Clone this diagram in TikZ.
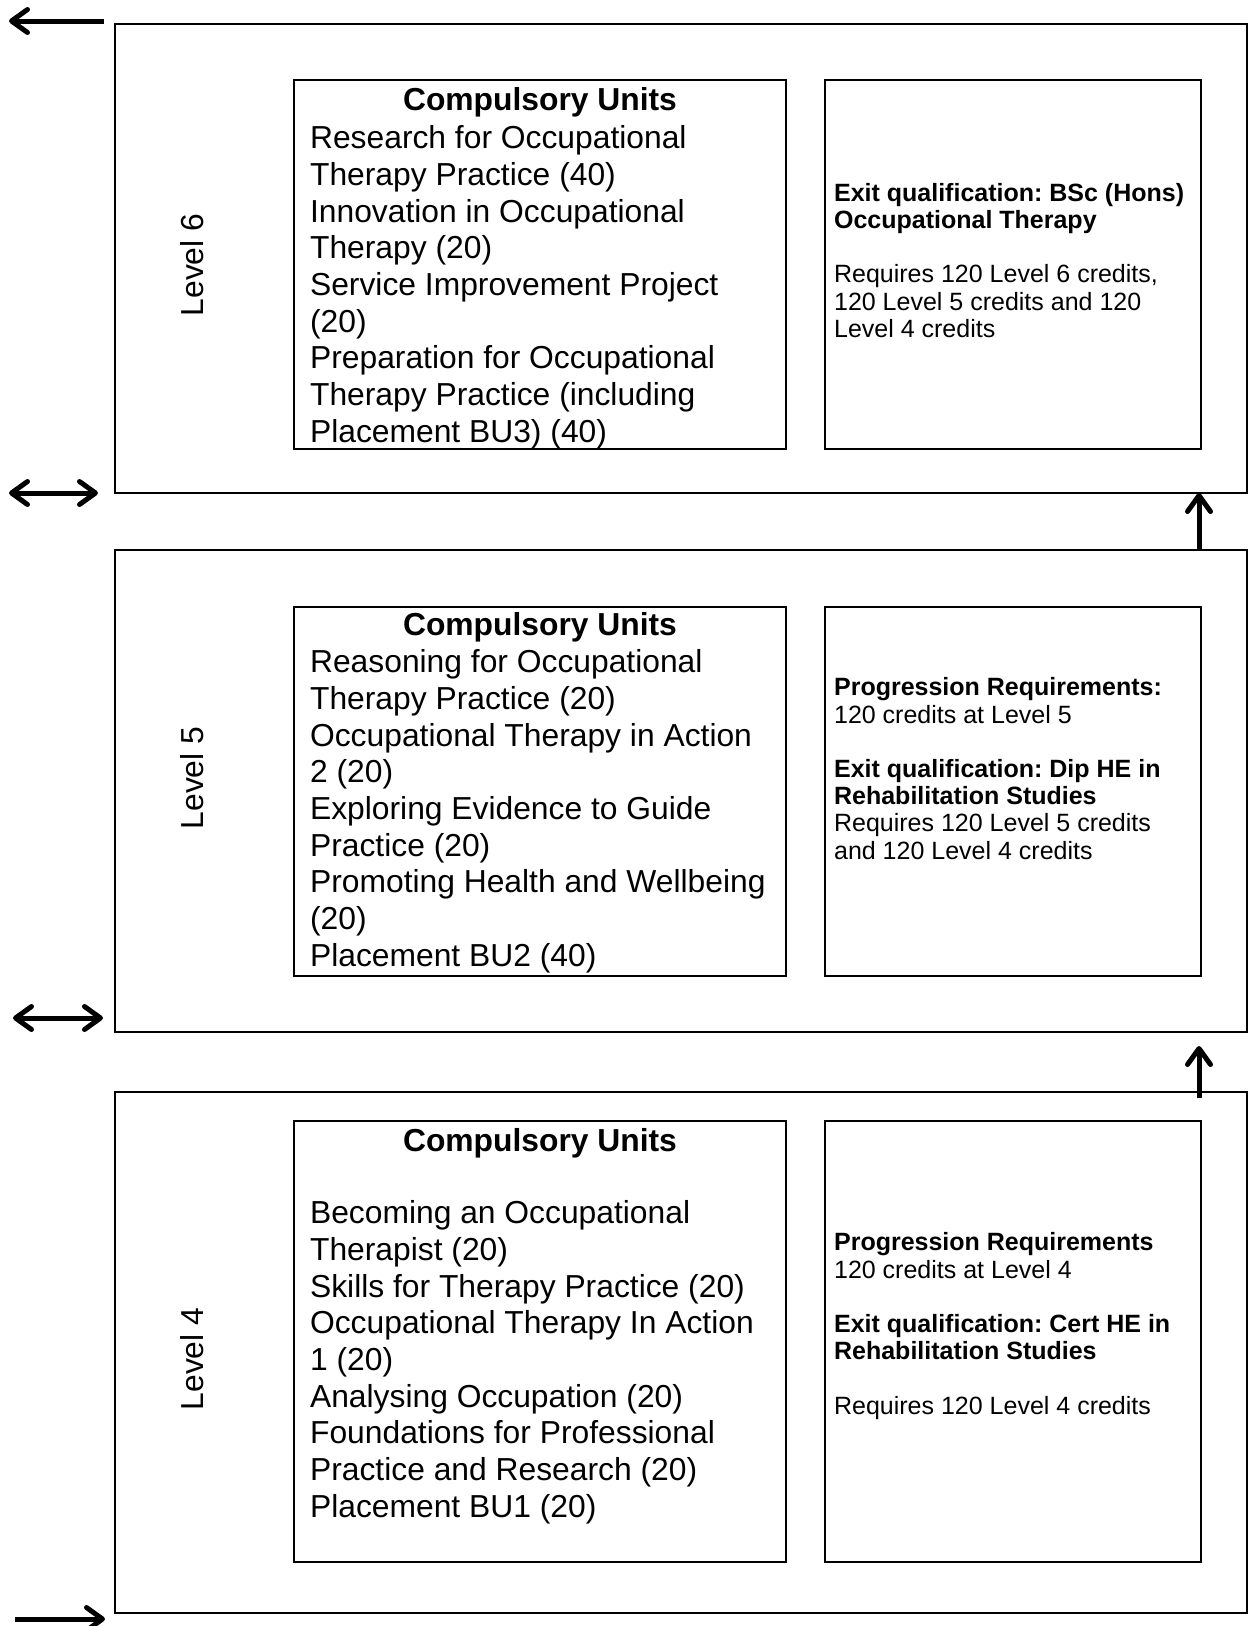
\documentclass[tikz,border=0pt]{standalone}
\usepackage{fontspec}
\setmainfont{Liberation Sans}
\usepackage{tikz}
\usetikzlibrary{arrows.meta,positioning,calc}
\frenchspacing

\begin{document}
\begin{tikzpicture}[x=1pt,y=-1pt,>={Straight Barb[length=16pt,width=23pt,round]},line width=2.2pt]
  \tikzstyle{levelbox}=[draw,anchor=north west,minimum width=1132pt,inner sep=0pt,outer sep=0pt]
  \tikzstyle{unitbox}=[draw,anchor=north west,minimum width=492pt,inner sep=0pt,outer sep=0pt]
  \tikzstyle{exitbox}=[draw,minimum width=376pt,inner sep=0pt,outer sep=0pt]
  \tikzstyle{unithead}=[anchor=base,font=\fontsize{31.8}{36.7}\selectfont\bfseries,inner sep=0pt]
  \tikzstyle{unitlist}=[anchor=north west,align=left,font=\fontsize{31.8}{36.7}\selectfont,inner sep=0pt]
  \tikzstyle{exitnote}=[anchor=north west,align=left,font=\fontsize{25}{27.2}\selectfont,inner sep=0pt]
  \tikzstyle{levellabel}=[rotate=90,font=\fontsize{31.8}{36.7}\selectfont,inner sep=0pt]
  \tikzstyle{flow}=[line width=5pt]
  \useasboundingbox (0,0) rectangle (1248,1626);
  % level 6
  \node[levelbox,minimum height=469pt] (lvsix) at (115,24) {};
  \node[unitbox,minimum height=369pt] (usix) at (294,80) {};
  \node[exitbox,minimum height=369pt,right=39pt of usix] (esix) {};
  \node[levellabel] (lsix) at (192,265) {Level 6};
  \node[unithead] (hsix) at (540,110) {Compulsory Units};
  \node[unitlist] (tsix) at (309,124.5) {Research for Occupational\\Therapy Practice (40)\\Innovation in Occupational\\Therapy (20)\\Service Improvement Project\\(20)\\Preparation for Occupational\\Therapy Practice (including\\Placement BU3) (40)};
  \node[exitnote] (nsix) at (833,182) {\textbf{Exit qualification: BSc (Hons)}\\\textbf{Occupational Therapy}\\[27.2pt]Requires 120 Level 6 credits,\\120 Level 5 credits and 120\\Level 4 credits};
  % level 5
  \node[levelbox,minimum height=482pt] (lvfive) at (115,550) {};
  \node[unitbox,minimum height=369pt] (ufive) at (294,607) {};
  \node[exitbox,minimum height=369pt,right=39pt of ufive] (efive) {};
  \node[levellabel] (lfive) at (192,778) {Level 5};
  \node[unithead] (hfive) at (540,635) {Compulsory Units};
  \node[unitlist] (tfive) at (309,648.5) {Reasoning for Occupational\\Therapy Practice (20)\\Occupational Therapy in Action\\2 (20)\\Exploring Evidence to Guide\\Practice (20)\\Promoting Health and Wellbeing\\(20)\\Placement BU2 (40)};
  \node[exitnote] (nfive) at (833,676.7) {\textbf{Progression Requirements:}\\120 credits at Level 5\\[27.2pt]\textbf{Exit qualification: Dip HE in}\\\textbf{Rehabilitation Studies}\\Requires 120 Level 5 credits\\and 120 Level 4 credits};
  % level 4
  \node[levelbox,minimum height=521pt] (lvfour) at (115,1092) {};
  \node[unitbox,minimum height=441pt] (ufour) at (294,1121) {};
  \node[exitbox,minimum height=441pt,right=39pt of ufour] (efour) {};
  \node[levellabel] (lfour) at (192,1359) {Level 4};
  \node[unithead] (hfour) at (540,1151) {Compulsory Units};
  \node[unitlist] (tfour) at (309,1199.5) {Becoming an Occupational\\Therapist (20)\\Skills for Therapy Practice (20)\\Occupational Therapy In Action\\1 (20)\\Analysing Occupation (20)\\Foundations for Professional\\Practice and Research (20)\\Placement BU1 (20)};
  \node[exitnote] (nfour) at (833,1231.7) {\textbf{Progression Requirements}\\120 credits at Level 4\\[27.2pt]\textbf{Exit qualification: Cert HE in}\\\textbf{Rehabilitation Studies}\\[27.2pt]Requires 120 Level 4 credits};
  % arrows
  \coordinate (topin) at (104,21);
  \coordinate (topout) at (9,21);
  \coordinate (sixl) at (9,493);
  \coordinate (sixr) at (98,493);
  \coordinate (fivel) at (13,1018);
  \coordinate (fiver) at (103,1018);
  \coordinate (botin) at (15,1619);
  \coordinate (botout) at (105,1619);
  \draw[flow,->] (topin) -- (topout);
  \draw[flow,<->] (sixl) -- (sixr);
  \draw[flow,<->] (fivel) -- (fiver);
  \draw[flow,->] (botin) -- (botout);
  \draw[flow,->] ($(efive.east |- lvfive.north)+(-2,0)$) -- ($(esix.east |- lvsix.south)+(-2,0)$);
  \draw[flow,->] ($(efour.east |- lvfour.north)+(-2,6)$) -- ($(efive.east |- lvfive.south)+(-2,14)$);
\end{tikzpicture}
\end{document}
